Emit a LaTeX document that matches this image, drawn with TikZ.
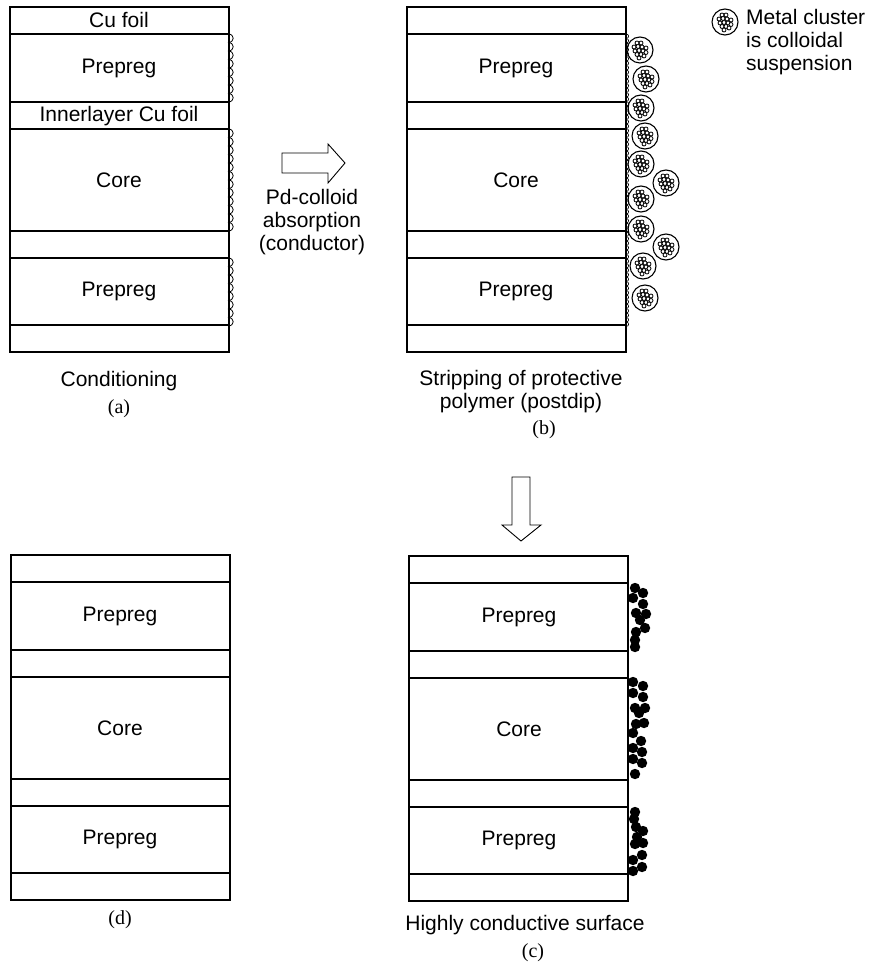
\documentclass[tikz,border=0pt]{standalone}
\usepackage{fontspec}
\setmainfont{Liberation Sans}
\newfontfamily\capfont{Liberation Serif}
\usepackage{tikz}

% board cross section: left x, top y
\newcommand{\board}[2]{%
  \draw[layer] (#1,#2) rectangle ++(219,345);
  \foreach \d in {27,95,122,224,251,318}
    \draw[layer] (#1,#2+\d) -- ++(219,0);
}
% one colloid particle with its metal cluster
\newcommand{\colloid}[2]{%
  \draw[layer] (#1,#2) circle[radius=13];
  \foreach \a/\b in {-3/-7,1/-7,-6/-3,-2/-3.5,2/-3,6/-2,-5/1,-1/0.5,3/1,6/2.5,-3/4.5,1/4.5,4/6,-1/8}
    \draw[line width=0.8pt, fill=white] (#1+\a,#2+\b) circle[radius=2];
}

\begin{document}
\begin{tikzpicture}[x=1pt,y=-1pt,
  layer/.style={line width=1.1pt},
  txt/.style={font=\fontsize{21}{23}\selectfont, inner sep=0pt, align=center},
  sublabel/.style={font=\capfont\fontsize{20}{22}\selectfont, inner sep=0pt}]
\useasboundingbox (0,0) rectangle (877,965);

\board{10}{7}
\board{407}{7}
\board{11}{555}
\board{409}{556}

% (a) conditioned hole wall
\node[txt] (cuA) at (119,20) {Cu foil};
\node[txt] (preA) at (119,68) {Prepreg};
\node[txt] (innerA) at (119,116) {Innerlayer Cu foil};
\node[txt] (coreA) at (119,180) {Core};
\node[txt] (preA2) at (119,291) {Prepreg};
\foreach \y/\n in {34/8,129/12,258/8}
  \foreach \i in {1,...,\n}
    \draw[line width=0.8pt] (228,\y+8.5*\i-8.5) .. controls (235,\y+8.5*\i-8.5) and (235,\y+8.5*\i) .. (228,\y+8.5*\i);
\node[txt] (condA) at (119,381) {Conditioning};
\node[sublabel] (labA) at (119,409) {(a)};

% (b) colloid on the wall
\node[txt] (preB) at (516,68) {Prepreg};
\node[txt] (coreB) at (516,180) {Core};
\node[txt] (preB2) at (516,291) {Prepreg};
\foreach \i in {1,...,65}
  \draw[line width=0.6pt] (626,29.5+4.5*\i) .. controls (629.5,29.5+4.5*\i) and (629.5,34+4.5*\i) .. (626,34+4.5*\i);
\foreach \x/\y in {640/50,646/79,641/108,645/136,641/164,666/183,641/199,641/229,666/247,643/266,645/298}
  {\colloid{\x}{\y}}
\node[txt] (stripB) at (521,392) {Stripping of protective\\polymer (postdip)};
\node[sublabel] (labB) at (544,430) {(b)};

% legend
\colloid{725}{22}
\node[txt, anchor=north west, align=left] (legend) at (746,9) {Metal cluster\\is colloidal\\suspension};

% process arrows
\draw[layer, line width=0.9pt] (282,153) -- (328,153) -- (328,144) -- (345,163) -- (328,183) -- (328,173) -- (282,173) -- cycle;
\node[txt] (pdA) at (312,222) {Pd-colloid\\absorption\\(conductor)};
\draw[layer, line width=0.9pt] (512,477) -- (530,477) -- (530,525) -- (541,525) -- (521,541) -- (502,525) -- (512,525) -- cycle;

% (d) bare stack
\node[txt] (preD) at (120,616) {Prepreg};
\node[txt] (coreD) at (120,728) {Core};
\node[txt] (preD2) at (120,839) {Prepreg};
\node[sublabel] (labD) at (120,920) {(d)};

% (c) conductive deposit
\node[txt] (preC) at (519,617) {Prepreg};
\node[txt] (coreC) at (519,729) {Core};
\node[txt] (preC2) at (519,840) {Prepreg};
\foreach \x/\y in {635/588,643/593,633/598,643/604,636/613,646/614,640/620,645/628,636/632,635/640,635/647,
  633/682,643/686,633/693,643/697,635/708,645/708,639/713,644/723,636/724,633/733,641/741,633/748,642/752,633/759,642/763,635/774,
  635/812,634/819,636/827,643/831,637/837,643/843,635/844,642/855,633/860,642/867,633/871}
  \fill (\x,\y) circle[radius=5.2];
\node[txt] (surfC) at (525,925) {Highly conductive surface};
\node[sublabel] (labC) at (533,953) {(c)};
\end{tikzpicture}
\end{document}
